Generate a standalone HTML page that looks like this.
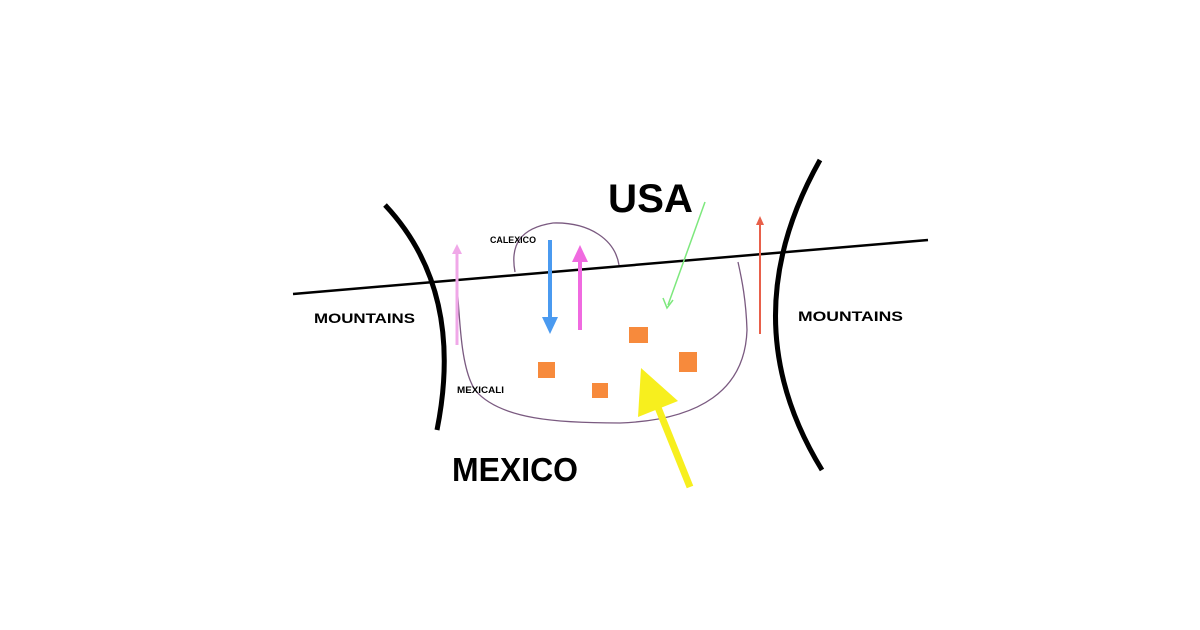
<!DOCTYPE html>
<html><head><style>body{margin:0;background:#fff}svg{display:block}text{font-family:"Liberation Sans",sans-serif;font-weight:bold;fill:#000}</style></head>
<body>
<svg width="1200" height="630" viewBox="0 0 1200 630">
<rect width="1200" height="630" fill="#fff"/>
<path d="M515,272 C510,245 520,228 553,223 C590,222 615,240 619,265" fill="none" stroke="#7a5a80" stroke-width="1.3"/>
<path d="M457,283 C460,330 462,370 475,390 C500,420 560,423 620,423 C700,420 745,390 747,330 C746,300 742,280 738,262" fill="none" stroke="#7a5a80" stroke-width="1.3"/>
<line x1="293" y1="294" x2="928" y2="240" stroke="#000" stroke-width="2.5"/>
<path d="M385,205 Q465,290 437,430" fill="none" stroke="#000" stroke-width="5"/>
<path d="M820,160 Q730,320 822,470" fill="none" stroke="#000" stroke-width="5"/>
<line x1="457" y1="345" x2="457" y2="252" stroke="#f0a8e8" stroke-width="3"/>
<polygon points="457,244 452,254 462,254" fill="#f0a8e8"/>
<line x1="550" y1="240" x2="550" y2="320" stroke="#4a9af0" stroke-width="4"/>
<polygon points="550,334 542,317 558,317" fill="#4a9af0"/>
<line x1="580" y1="330" x2="580" y2="258" stroke="#f06ae0" stroke-width="4"/>
<polygon points="580,245 572,262 588,262" fill="#f06ae0"/>
<line x1="705" y1="202" x2="668" y2="305" stroke="#7de87d" stroke-width="1.5"/>
<polyline points="663,298 667,308 673,300" fill="none" stroke="#7de87d" stroke-width="1.5"/>
<line x1="760" y1="334" x2="760" y2="222" stroke="#e8604a" stroke-width="2"/>
<polygon points="760,216 756,225 764,225" fill="#e8604a"/>
<line x1="690" y1="487" x2="655" y2="400" stroke="#f7ef1e" stroke-width="7"/>
<polygon points="641,368 638,417 678,401" fill="#f7ef1e"/>
<rect x="538" y="362" width="17" height="16" fill="#f78a3c"/>
<rect x="592" y="383" width="16" height="15" fill="#f78a3c"/>
<rect x="629" y="327" width="19" height="16" fill="#f78a3c"/>
<rect x="679" y="352" width="18" height="20" fill="#f78a3c"/>
<text x="608" y="212" font-size="40" textLength="85" lengthAdjust="spacingAndGlyphs">USA</text>
<text x="452" y="481" font-size="33" textLength="126" lengthAdjust="spacingAndGlyphs">MEXICO</text>
<text x="314" y="323" font-size="14" textLength="101" lengthAdjust="spacingAndGlyphs">MOUNTAINS</text>
<text x="798" y="321" font-size="14" textLength="105" lengthAdjust="spacingAndGlyphs">MOUNTAINS</text>
<text x="490" y="243" font-size="9" textLength="46" lengthAdjust="spacingAndGlyphs">CALEXICO</text>
<text x="457" y="393" font-size="9" textLength="47" lengthAdjust="spacingAndGlyphs">MEXICALI</text>
</svg>
</body></html>
